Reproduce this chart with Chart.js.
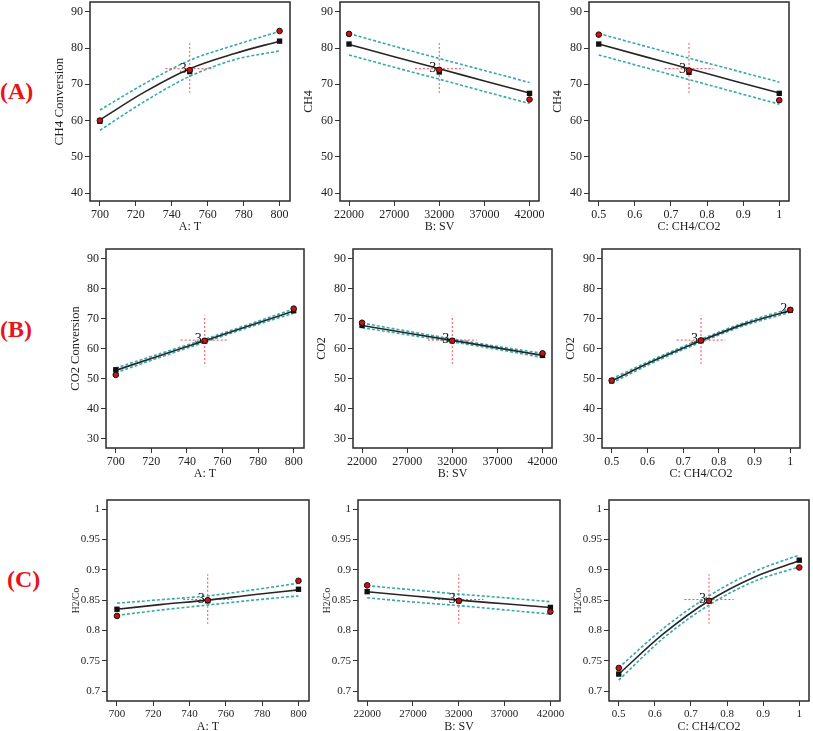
<!DOCTYPE html>
<html><head><meta charset="utf-8">
<script src="https://cdn.jsdelivr.net/npm/chart.js@4.4.1/dist/chart.umd.min.js"></script>
<style>
html,body{margin:0;padding:0;background:#fff;width:813px;height:731px;overflow:hidden}
body{position:relative}
canvas{position:absolute}
.lab{position:absolute;color:#e8141b;font:bold 24px 'Liberation Serif','Times New Roman',serif;line-height:24px}
</style></head><body>
<div class="lab" style="left:0px;top:79px">(A)</div>
<div class="lab" style="left:0px;top:317px">(B)</div>
<div class="lab" style="left:7px;top:567px">(C)</div>
<script>
// ---- tick labels ----
const ticksT = [700, 720, 740, 760, 780, 800];
const ticksSV = [22000, 27000, 32000, 37000, 42000];
const ticksR = [0.5, 0.6, 0.7, 0.8, 0.9, 1];
const ticksYA = [40, 50, 60, 70, 80, 90];
const ticksYB = [30, 40, 50, 60, 70, 80, 90];
const ticksYC = [0.7, 0.75, 0.8, 0.85, 0.9, 0.95, 1];

// ---- factor levels ----
const curveT = [700, 725, 750, 775, 800];
const curveSV = [22000, 27000, 32000, 37000, 42000];
const curveR = [0.5, 0.625, 0.75, 0.875, 1];
const levelsT = [700, 750, 800];
const levelsSV = [22000, 32000, 42000];
const levelsR = [0.5, 0.75, 1];

// ---- Row A : CH4 conversion ----
const a1Pred = [60.2, 67.9, 74.3, 78.5, 81.9];
const a1Upper = [62.9, 70.2, 76.6, 80.8, 84.6];
const a1Lower = [57.3, 65.3, 72.2, 76.8, 79.2];
const a1Square = [59.8, 73.5, 81.9];
const a1Actual = [60.0, 73.9, 84.7];

const a2Pred = [81.0, 77.6, 74.3, 70.9, 67.6];
const a2Upper = [84.0, 80.5, 77.1, 73.8, 70.5];
const a2Lower = [78.1, 74.7, 71.4, 68.0, 64.7];
const a2Square = [81.1, 73.4, 67.5];
const a2Actual = [83.9, 74.0, 65.8];

const a3Pred = [81.1, 77.7, 74.3, 70.9, 67.6];
const a3Upper = [84.0, 80.6, 77.2, 73.9, 70.6];
const a3Lower = [78.1, 74.7, 71.3, 67.9, 64.5];
const a3Square = [81.1, 73.3, 67.5];
const a3Actual = [83.7, 73.8, 65.6];

// ---- Row B : CO2 conversion ----
const b1Pred = [52.7, 57.7, 62.6, 67.6, 72.5];
const b1Upper = [53.5, 58.3, 63.1, 68.1, 73.2];
const b1Lower = [51.9, 57.1, 62.1, 67.1, 71.8];
const b1Square = [52.9, 62.5, 72.6];
const b1Actual = [51.2, 62.6, 73.3];

const b2Pred = [67.7, 65.2, 62.7, 60.2, 57.7];
const b2Upper = [68.5, 65.8, 63.2, 60.7, 58.4];
const b2Lower = [66.9, 64.6, 62.2, 59.7, 57.0];
const b2Square = [67.7, 62.6, 57.7];
const b2Actual = [68.6, 62.6, 58.4];

const b3Pred = [49.2, 56.3, 62.6, 68.3, 72.7];
const b3Upper = [49.9, 56.8, 63.1, 68.8, 73.3];
const b3Lower = [48.5, 55.8, 62.1, 67.8, 72.1];
const b3Square = [49.2, 62.6, 72.8];
const b3Actual = [49.3, 62.7, 72.9];

// ---- Row C : H2/CO ----
const c1Pred = [0.835, 0.843, 0.850, 0.859, 0.867];
const c1Upper = [0.845, 0.851, 0.857, 0.867, 0.878];
const c1Lower = [0.825, 0.834, 0.842, 0.850, 0.857];
const c1Square = [0.835, 0.849, 0.868];
const c1Actual = [0.824, 0.850, 0.882];

const c2Pred = [0.864, 0.857, 0.850, 0.844, 0.838];
const c2Upper = [0.874, 0.867, 0.860, 0.854, 0.8475];
const c2Lower = [0.854, 0.847, 0.841, 0.834, 0.827];
const c2Square = [0.864, 0.849, 0.838];
const c2Actual = [0.8745, 0.849, 0.831];

const c3Pred = [0.728, 0.795, 0.849, 0.888, 0.915];
const c3Upper = [0.7385, 0.804, 0.857, 0.897, 0.9246];
const c3Lower = [0.718, 0.788, 0.842, 0.881, 0.905];
const c3Square = [0.728, 0.849, 0.916];
const c3Actual = [0.738, 0.849, 0.904];

// ---- centre-point crosshair extents ----
const crossT = [736.5, 763.5];
const crossSV = [29300, 34700];
const crossR = [0.682, 0.818];
const crossYA = [67.6, 81.4];
const crossYB = [54.8, 71.0];
const crossYC = [0.811, 0.893];
const centreYA = 74.3, centreYB = 62.8, centreYC = 0.851;

// ---- replicate-count labels [x, y, text] ----
const repA1 = [[750, 73.9, '3']];
const repA2 = [[32000, 74.0, '3']];
const repA3 = [[0.75, 73.8, '3']];
const repB1 = [[750, 62.6, '3']];
const repB2 = [[32000, 62.6, '3']];
const repB3 = [[0.75, 62.7, '3'], [1, 72.9, '2']];
const repC1 = [[750, 0.850, '3']];
const repC2 = [[32000, 0.849, '3']];
const repC3 = [[0.75, 0.849, '3']];

const SERIF = "'Liberation Serif','Times New Roman',serif";
const zip = (xs, ys) => xs.map((x, i) => ({x, y: ys[i]}));
const fmt = v => String(+v.toFixed(3));

const boxPlugin = {
  id: 'boxframe',
  afterDraw(chart) {
    const {ctx, chartArea: a} = chart;
    ctx.save();
    ctx.strokeStyle = '#2a2a2a';
    ctx.lineWidth = 1.5;
    ctx.strokeRect(a.left, a.top, a.width, a.height);
    ctx.restore();
  }
};
const repPlugin = {
  id: 'replabels',
  afterDatasetsDraw(chart, args, opts) {
    const {ctx, scales} = chart;
    ctx.save();
    ctx.fillStyle = '#111';
    ctx.font = '14px ' + SERIF;
    ctx.textAlign = 'right';
    ctx.textBaseline = 'middle';
    (opts.items || []).forEach(([x, y, t]) => {
      ctx.fillText(t, scales.x.getPixelForValue(x) - 3, scales.y.getPixelForValue(y) - 1);
    });
    ctx.restore();
  }
};

const PADT = 12, PADR = 24, YW = 38, XH = 33;

function panel(p) {
  const c = document.createElement('canvas');
  const w = (p.box[1] - p.box[0]) + YW + PADR;
  const h = (p.box[3] - p.box[2]) + PADT + XH;
  c.width = w; c.height = h;
  c.style.left = (p.box[0] - YW) + 'px';
  c.style.top = (p.box[2] - PADT) + 'px';
  c.style.width = w + 'px'; c.style.height = h + 'px';
  document.body.appendChild(c);
  const teal = '#35a9ab';
  const red = '#f0484e';
  const lineDs = (data, color, dash, width) => ({
    data, showLine: true, borderColor: color, borderDash: dash, borderWidth: width,
    pointRadius: 0, cubicInterpolationMode: 'monotone', fill: false
  });
  new Chart(c, {
    type: 'scatter',
    data: {
      datasets: [
        {data: zip(p.lx, p.act), pointStyle: 'circle', pointRadius: 2.8, backgroundColor: '#d01010', borderColor: '#111', borderWidth: 1},
        {data: zip(p.lx, p.sq), pointStyle: 'rect', pointRadius: 3.8, backgroundColor: '#111', borderColor: '#111', borderWidth: 0},
        lineDs(zip(p.cx, p.pred), '#262626', [], 1.6),
        lineDs(zip(p.cx, p.up), teal, [3, 2], 1.6),
        lineDs(zip(p.cx, p.lo), teal, [3, 2], 1.6),
        lineDs([{x: p.lx[1], y: p.crossY[0]}, {x: p.lx[1], y: p.crossY[1]}], red, [2, 2], 1),
        lineDs([{x: p.crossX[0], y: p.centreY}, {x: p.crossX[1], y: p.centreY}], red, [2, 2], 1)
      ]
    },
    options: {
      responsive: false, animation: false, devicePixelRatio: 1,
      layout: {padding: {top: PADT, right: PADR, left: 0, bottom: 0}},
      plugins: {legend: {display: false}, tooltip: {enabled: false}, replabels: {items: p.rep}},
      scales: {
        x: {
          type: 'linear', min: p.xr[0], max: p.xr[1],
          afterBuildTicks: s => { s.ticks = p.xt.map(v => ({value: v})); },
          afterFit: s => { s.height = XH; },
          ticks: {callback: fmt, color: '#222', font: {family: SERIF, size: p.tf}, padding: 2, maxRotation: 0, autoSkip: false},
          grid: {display: true, drawOnChartArea: false, drawTicks: true, tickLength: 5, color: '#333', lineWidth: 1},
          border: {display: false},
          title: {display: true, text: p.xTitle, color: '#222', font: {family: SERIF, size: 12}, padding: 0}
        },
        y: {
          type: 'linear', min: p.yr[0], max: p.yr[1],
          afterBuildTicks: s => { s.ticks = p.yt.map(v => ({value: v})); },
          afterFit: s => { s.width = YW; },
          ticks: {callback: fmt, color: '#222', font: {family: SERIF, size: p.tf}, padding: 2, autoSkip: false},
          grid: {display: true, drawOnChartArea: false, drawTicks: true, tickLength: 5, color: '#333', lineWidth: 1},
          border: {display: false},
          title: {display: true, text: p.yTitle, color: '#222', font: {family: SERIF, size: p.ys}, padding: {top: Math.max(0, YW - 31 - p.ys * 0.6), bottom: 0}}
        }
      }
    },
    plugins: [boxPlugin, repPlugin]
  });
}

const rT = [694.5, 805.8], rSV = [21000, 43050], rR = [0.473, 1.027];
const rYA = [37.8, 92.7], rYB = [26.8, 93.2], rYC = [0.6835, 1.0154];
const colT = {cx: curveT, lx: levelsT, xr: rT, xt: ticksT, xTitle: 'A: T', crossX: crossT};
const colSV = {cx: curveSV, lx: levelsSV, xr: rSV, xt: ticksSV, xTitle: 'B: SV', crossX: crossSV};
const colR = {cx: curveR, lx: levelsR, xr: rR, xt: ticksR, xTitle: 'C: CH4/CO2', crossX: crossR};
const rowA = {yr: rYA, yt: ticksYA, crossY: crossYA, centreY: centreYA, tf: 12};
const rowB = {yr: rYB, yt: ticksYB, crossY: crossYB, centreY: centreYB, tf: 12};
const rowC = {yr: rYC, yt: ticksYC, crossY: crossYC, centreY: centreYC, tf: 11};

panel({...colT, ...rowA, box: [90, 290, 2, 201], yTitle: 'CH4 Conversion', ys: 13, pred: a1Pred, up: a1Upper, lo: a1Lower, sq: a1Square, act: a1Actual, rep: repA1});
panel({...colSV, ...rowA, box: [340, 539, 2, 201], yTitle: 'CH4', ys: 12, pred: a2Pred, up: a2Upper, lo: a2Lower, sq: a2Square, act: a2Actual, rep: repA2});
panel({...colR, ...rowA, box: [589, 789, 2, 201], yTitle: 'CH4', ys: 12, pred: a3Pred, up: a3Upper, lo: a3Lower, sq: a3Square, act: a3Actual, rep: repA3});
panel({...colT, ...rowB, box: [106, 304, 249, 448], yTitle: 'CO2 Conversion', ys: 12.5, pred: b1Pred, up: b1Upper, lo: b1Lower, sq: b1Square, act: b1Actual, rep: repB1});
panel({...colSV, ...rowB, box: [353, 552, 249, 448], yTitle: 'CO2', ys: 12, pred: b2Pred, up: b2Upper, lo: b2Lower, sq: b2Square, act: b2Actual, rep: repB2});
panel({...colR, ...rowB, box: [602, 800, 249, 448], yTitle: 'CO2', ys: 12, pred: b3Pred, up: b3Upper, lo: b3Lower, sq: b3Square, act: b3Actual, rep: repB3});
panel({...colT, ...rowC, box: [107, 309, 500, 701], yTitle: 'H2/Co', ys: 9.5, pred: c1Pred, up: c1Upper, lo: c1Lower, sq: c1Square, act: c1Actual, rep: repC1});
panel({...colSV, ...rowC, box: [358, 560, 500, 701], yTitle: 'H2/Co', ys: 9.5, pred: c2Pred, up: c2Upper, lo: c2Lower, sq: c2Square, act: c2Actual, rep: repC2});
panel({...colR, ...rowC, box: [609, 809, 500, 701], yTitle: 'H2/Co', ys: 9.5, pred: c3Pred, up: c3Upper, lo: c3Lower, sq: c3Square, act: c3Actual, rep: repC3});
</script>
</body></html>
